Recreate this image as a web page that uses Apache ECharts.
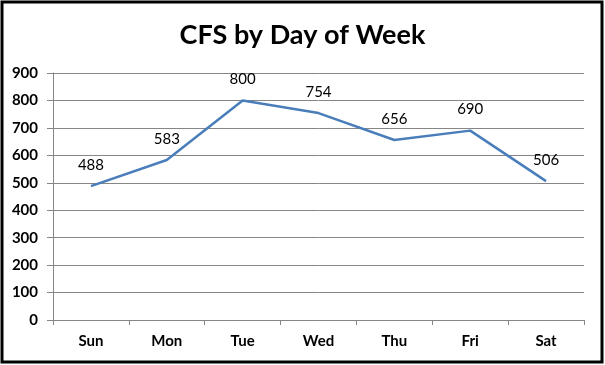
<!DOCTYPE html>
<html><head><meta charset="utf-8">
<script src="https://cdn.jsdelivr.net/npm/echarts@6/dist/echarts.min.js"></script>
<style>html,body{margin:0;padding:0;background:#fff}#c{width:605px;height:365px}</style>
</head><body><div id="c"></div>
<script>
const categories = ['Sun','Mon','Tue','Wed','Thu','Fri','Sat'];
const cfsValues = [488, 583, 800, 754, 656, 690, 506];
const titleText = 'CFS by Day of Week';

const chart = echarts.init(document.getElementById('c'));
chart.setOption({
  animation: false,
  backgroundColor: '#fff',
  title: {
    text: titleText, left: 'center', top: 17,
    textStyle: { fontFamily: 'Lato', fontWeight: 'bold', fontSize: 27, color: '#000' }
  },
  grid: { left: 53, right: 21, top: 73, bottom: 45 },
  xAxis: {
    type: 'category', data: categories, boundaryGap: true,
    axisLine: { lineStyle: { color: '#868686' } },
    axisTick: { show: true, length: 5, lineStyle: { color: '#868686' } },
    axisLabel: { fontFamily: 'Lato', fontWeight: 'bold', fontSize: 15, color: '#000', margin: 14 }
  },
  yAxis: {
    type: 'value', min: 0, max: 900, interval: 100,
    axisLine: { show: true, lineStyle: { color: '#868686' } },
    axisTick: { show: true, length: 6, lineStyle: { color: '#868686' } },
    splitLine: { lineStyle: { color: '#868686', width: 1 } },
    axisLabel: { fontFamily: 'Lato', fontWeight: 'bold', fontSize: 15, color: '#000', margin: 15 }
  },
  series: [{
    type: 'line', data: cfsValues, symbol: 'circle', symbolSize: 1, showSymbol: true,
    itemStyle: { color: 'rgba(0,0,0,0)' },
    lineStyle: { color: '#4a7ebb', width: 2.5, join: 'round' },
    label: { show: true, position: 'top', distance: 13, fontFamily: 'Lato', fontSize: 15, color: '#000' }
  }],
  graphic: [{
    type: 'rect', silent: true, z: 100,
    shape: { x: 2, y: 2, width: 600, height: 360 },
    style: { fill: 'none', stroke: '#000', lineWidth: 3 }
  }]
});
</script></body></html>
